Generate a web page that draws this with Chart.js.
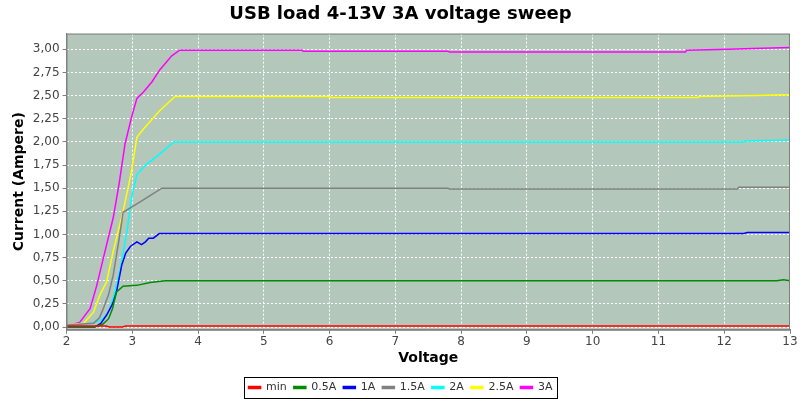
<!DOCTYPE html>
<html>
<head>
<meta charset="utf-8">
<script src="https://cdn.jsdelivr.net/npm/chart.js@4/dist/chart.umd.min.js"></script>
<style>
html,body{margin:0;padding:0;background:#ffffff;}
#wrap{width:800px;height:400px;position:relative;}
</style>
</head>
<body>
<div id="wrap"><canvas id="c"></canvas></div>
<script>
const seriesNames = ['min','0.5A','1A','1.5A','2A','2.5A','3A'];
const seriesColors = ['#ff0000','#008c00','#0000ff','#808080','#00ffff','#ffff00','#ff00ff'];
const xTicks = [2,3,4,5,6,7,8,9,10,11,12,13];
const yTicks = [0,0.25,0.5,0.75,1,1.25,1.5,1.75,2,2.25,2.5,2.75,3];

const vMin = [2.0,2.6,2.65,2.85,2.9,13.0];
const iMin = [0.01,0.01,0.0,0.0,0.01,0.01];

const v05 = [2.0,2.3,2.43,2.55,2.64,2.7,2.76,2.86,3.07,3.27,3.37,3.5,6,12.8,12.9,13];
const i05 = [0.0,0.0,0.0,0.03,0.09,0.2,0.38,0.44,0.45,0.48,0.49,0.50,0.50,0.50,0.51,0.50];

const v1 = [2.0,2.43,2.52,2.61,2.7,2.76,2.84,2.9,2.97,3.07,3.14,3.2,3.25,3.32,3.41,6,12.3,12.35,13];
const i1 = [0,0,0.04,0.13,0.25,0.38,0.67,0.8,0.87,0.92,0.89,0.92,0.96,0.96,1.01,1.01,1.01,1.02,1.02];

const v15 = [2.0,2.2,2.41,2.5,2.56,2.64,2.71,2.8,2.86,3.07,3.27,3.45,7.8,7.82,12.2,12.22,13];
const i15 = [0.02,0.03,0.04,0.1,0.2,0.35,0.56,0.95,1.24,1.33,1.42,1.5,1.5,1.49,1.49,1.51,1.51];

const v2 = [2.0,2.2,2.41,2.56,2.65,2.71,2.81,2.92,2.99,3.07,3.22,3.42,3.63,6,12.3,12.32,13];
const i2 = [0.02,0.03,0.04,0.09,0.18,0.31,0.6,1.04,1.4,1.65,1.76,1.87,2.0,2.0,2.0,2.01,2.02];

const v25 = [2.0,2.1,2.26,2.41,2.51,2.61,2.71,2.86,2.99,3.07,3.17,3.42,3.65,6.0,6.02,11.6,11.62,12.5,12.9,13];
const i25 = [0.02,0.03,0.04,0.16,0.35,0.49,0.82,1.25,1.69,2.05,2.14,2.34,2.49,2.49,2.48,2.48,2.49,2.50,2.51,2.51];

const v3 = [2.0,2.1,2.2,2.36,2.46,2.56,2.71,2.8,2.89,2.99,3.07,3.17,3.3,3.42,3.6,3.72,5.58,5.6,7.8,7.82,10.0,11.41,11.43,12.07,12.43,13];
const i3 = [0.02,0.03,0.05,0.2,0.45,0.745,1.18,1.55,1.98,2.27,2.47,2.54,2.65,2.78,2.93,2.99,2.99,2.98,2.98,2.97,2.97,2.97,2.99,3.00,3.01,3.02];

const xs = [vMin,v05,v1,v15,v2,v25,v3];
const ys = [iMin,i05,i1,i15,i2,i25,i3];

const datasets = seriesNames.map((n,k)=>({
  label:n,
  data: xs[k].map((x,j)=>({x:x,y:ys[k][j]})),
  borderColor: seriesColors[k],
  backgroundColor: seriesColors[k],
  borderWidth: 1.5,
  pointRadius: 0,
  tension: 0,
  fill: false
}));

const plotDeco = {
  id:'plotDeco',
  beforeDraw(chart){
    const {ctx, chartArea:a} = chart;
    ctx.save();
    ctx.fillStyle = 'rgb(180,199,187)';
    ctx.fillRect(a.left, a.top, a.right-a.left, a.bottom-a.top);
    ctx.restore();
  },
  afterDraw(chart){
    const {ctx, chartArea:a} = chart;
    ctx.save();
    ctx.strokeStyle = '#808080';
    ctx.lineWidth = 1;
    ctx.strokeRect(a.left+0.5, a.top+0.5, a.right-a.left-1, a.bottom-a.top);
    const lg = chart.legend;
    if (lg && lg.legendHitBoxes && lg.legendHitBoxes.length){
      const hb = lg.legendHitBoxes;
      const x0 = hb[0].left - 5, x1 = hb[hb.length-1].left + hb[hb.length-1].width + 4;
      const y0 = hb[0].top - 5, y1 = hb[0].top + hb[0].height + 5;
      ctx.strokeStyle = '#000000';
      ctx.strokeRect(Math.round(x0)+0.5, Math.round(y0)+0.5, Math.round(x1-x0), Math.round(y1-y0));
    }
    ctx.restore();
  }
};

new Chart(document.getElementById('c'), {
  type:'line',
  data:{datasets},
  plugins:[plotDeco],
  options:{
    responsive:true,
    maintainAspectRatio:false,
    animation:false,
    layout:{padding:{left:11,right:10,top:0,bottom:-3}},
    plugins:{
      title:{display:true,text:'USB load 4-13V 3A voltage sweep',
        font:{family:'DejaVu Sans',size:18,weight:'bold'},color:'#000',
        padding:{top:4,bottom:8}},
      legend:{position:'bottom',
        labels:{boxWidth:12,boxHeight:2,padding:7,
          font:{family:'DejaVu Sans',size:11},color:'#333'}},
      tooltip:{enabled:false}
    },
    scales:{
      x:{type:'linear',min:2,max:13,
        afterBuildTicks(ax){ax.ticks = xTicks.map(v=>({value:v}));},
        ticks:{font:{family:'DejaVu Sans',size:12},color:'#444',padding:1,maxRotation:0,autoSkip:false},
        grid:{color:'#ffffff',tickColor:'#808080',tickLength:4,drawTicks:true,tickBorderDash:[]},
        border:{color:'#808080',dash:[2,2]},
        title:{display:true,text:'Voltage',font:{family:'DejaVu Sans',size:14,weight:'bold'},color:'#000',padding:{top:0,bottom:8}}
      },
      y:{type:'linear',min:-0.03,max:3.17,
        afterBuildTicks(ax){ax.ticks = yTicks.map(v=>({value:v}));},
        ticks:{font:{family:'DejaVu Sans',size:12},color:'#444',padding:3,autoSkip:false,
          callback:(v)=>Number(v).toFixed(2).replace('.',',')},
        grid:{color:'#ffffff',tickColor:'#808080',tickLength:4,tickBorderDash:[]},
        border:{color:'#808080',dash:[2,2]},
        title:{display:true,text:'Current (Ampere)',font:{family:'DejaVu Sans',size:14,weight:'bold'},color:'#000',padding:{top:0,bottom:2}}
      }
    }
  }
});
</script>
</body>
</html>
